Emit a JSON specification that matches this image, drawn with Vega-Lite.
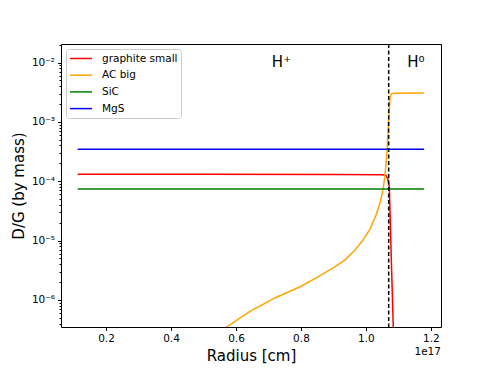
{
  "$schema": "https://vega.github.io/schema/vega-lite/v6.json",
  "width": 380,
  "height": 283,
  "autosize": "none",
  "padding": {"left": 61, "top": 44, "right": 49, "bottom": 41},
  "background": "white",
  "config": {
    "font": "DejaVu Sans",
    "view": {"stroke": "black", "strokeWidth": 1},
    "axis": {"grid": false, "domain": false, "tickColor": "black", "labelColor": "black", "titleColor": "black", "labelFont": "DejaVu Sans", "titleFont": "DejaVu Sans", "titleFontWeight": "normal"}
  },
  "datasets": {
    "lines": [
      {"series": "graphite small", "x": 0.113, "y": 1.31e-4},
      {"series": "graphite small", "x": 0.5, "y": 1.31e-4},
      {"series": "graphite small", "x": 0.9, "y": 1.3e-4},
      {"series": "graphite small", "x": 1.05, "y": 1.29e-4},
      {"series": "graphite small", "x": 1.062, "y": 1.25e-4},
      {"series": "graphite small", "x": 1.067, "y": 1.1e-4},
      {"series": "graphite small", "x": 1.072, "y": 8e-5},
      {"series": "graphite small", "x": 1.078, "y": 5e-6},
      {"series": "graphite small", "x": 1.087, "y": 1e-7},
      {"series": "AC big", "x": 0.5, "y": 1.9e-7},
      {"series": "AC big", "x": 0.571, "y": 3.5e-7},
      {"series": "AC big", "x": 0.643, "y": 6.4e-7},
      {"series": "AC big", "x": 0.72, "y": 1.08e-6},
      {"series": "AC big", "x": 0.797, "y": 1.67e-6},
      {"series": "AC big", "x": 0.85, "y": 2.4e-6},
      {"series": "AC big", "x": 0.9, "y": 3.5e-6},
      {"series": "AC big", "x": 0.935, "y": 4.7e-6},
      {"series": "AC big", "x": 0.965, "y": 6.8e-6},
      {"series": "AC big", "x": 0.99, "y": 1e-5},
      {"series": "AC big", "x": 1.012, "y": 1.55e-5},
      {"series": "AC big", "x": 1.03, "y": 2.6e-5},
      {"series": "AC big", "x": 1.043, "y": 4.2e-5},
      {"series": "AC big", "x": 1.052, "y": 7e-5},
      {"series": "AC big", "x": 1.058, "y": 1.17e-4},
      {"series": "AC big", "x": 1.062, "y": 2e-4},
      {"series": "AC big", "x": 1.065, "y": 3.3e-4},
      {"series": "AC big", "x": 1.068, "y": 7e-4},
      {"series": "AC big", "x": 1.071, "y": 1.36e-3},
      {"series": "AC big", "x": 1.074, "y": 2.5e-3},
      {"series": "AC big", "x": 1.077, "y": 2.95e-3},
      {"series": "AC big", "x": 1.085, "y": 3.04e-3},
      {"series": "AC big", "x": 1.179, "y": 3.05e-3},
      {"series": "SiC", "x": 0.113, "y": 7.4e-5},
      {"series": "SiC", "x": 1.179, "y": 7.4e-5},
      {"series": "MgS", "x": 0.113, "y": 3.47e-4},
      {"series": "MgS", "x": 1.179, "y": 3.47e-4}
    ],
    "labels": [
      {"label": "H⁺", "x": 0.74, "y": 8.3e-3},
      {"label": "H⁰", "x": 1.154, "y": 8.3e-3}
    ],
    "boundary": [{"x": 1.07}],
    "offsetText": [{"x": 1.231, "y": 3.5e-7, "label": "1e17"}]
  },
  "layer": [
    {
      "data": {"name": "lines"},
      "mark": {"type": "line", "strokeWidth": 1.5, "clip": true},
      "encoding": {
        "x": {
          "field": "x", "type": "quantitative",
          "scale": {"domain": [0.0615, 1.231], "nice": false, "zero": false},
          "axis": {"values": [0.2, 0.4, 0.6, 0.8, 1.0, 1.2], "format": ".1f", "title": "Radius [cm]", "titleFontSize": 15, "labelFontSize": 10.5, "tickSize": 3.5, "labelPadding": 3, "titlePadding": 4}
        },
        "y": {
          "field": "y", "type": "quantitative",
          "scale": {"type": "log", "domain": [3.5e-7, 2.05e-2], "nice": false},
          "axis": {
            "values": [2e-7, 3e-7, 4e-7, 5e-7, 6e-7, 7e-7, 8e-7, 9e-7, 1e-6, 2e-6, 3e-6, 4e-6, 5e-6, 6e-6, 7e-6, 8e-6, 9e-6, 1e-5, 2e-5, 3e-5, 4e-5, 5e-5, 6e-5, 7e-5, 8e-5, 9e-5, 1e-4, 2e-4, 3e-4, 4e-4, 5e-4, 6e-4, 7e-4, 8e-4, 9e-4, 1e-3, 2e-3, 3e-3, 4e-3, 5e-3, 6e-3, 7e-3, 8e-3, 9e-3, 1e-2, 2e-2],
            "labelExpr": "abs(datum.value - 1e-6) < 1e-9 ? '10⁻⁶' : abs(datum.value - 1e-5) < 1e-8 ? '10⁻⁵' : abs(datum.value - 1e-4) < 1e-7 ? '10⁻⁴' : abs(datum.value - 1e-3) < 1e-6 ? '10⁻³' : abs(datum.value - 1e-2) < 1e-5 ? '10⁻²' : ''",
            "tickSize": {"condition": {"test": "abs(log(datum.value)/LN10 - round(log(datum.value)/LN10)) < 0.01", "value": 3.5}, "value": 2},
            "title": "D/G (by mass)", "titleFontSize": 15, "labelFontSize": 10.5, "labelPadding": 3, "titlePadding": 5
          }
        },
        "color": {
          "field": "series", "type": "nominal",
          "scale": {"domain": ["graphite small", "AC big", "SiC", "MgS"], "range": ["#ff0000", "#ffa500", "#008000", "#0000ff"]},
          "legend": {
            "orient": "top-left", "offset": 5, "title": null,
            "symbolType": "M-2,0H2", "symbolSize": 121, "symbolStrokeWidth": 1.5, "symbolOffset": 5.5,
            "labelFontSize": 10.5, "labelColor": "black", "rowPadding": 4.7,
            "padding": 3, "strokeColor": "#cccccc", "fillColor": "white", "cornerRadius": 3,
            "labelOffset": 14.5
          }
        }
      }
    },
    {
      "data": {"name": "boundary"},
      "mark": {"type": "rule", "color": "black", "strokeWidth": 1.5, "strokeDash": [4, 2.5]},
      "encoding": {"x": {"field": "x", "type": "quantitative"}}
    },
    {
      "data": {"name": "labels"},
      "mark": {"type": "text", "fontSize": 15, "color": "black", "baseline": "alphabetic", "align": "center"},
      "encoding": {
        "x": {"field": "x", "type": "quantitative"},
        "y": {"field": "y", "type": "quantitative"},
        "text": {"field": "label"}
      }
    },
    {
      "data": {"name": "offsetText"},
      "mark": {"type": "text", "fontSize": 10.5, "color": "black", "align": "right", "baseline": "alphabetic", "dy": 28},
      "encoding": {
        "x": {"field": "x", "type": "quantitative"},
        "y": {"field": "y", "type": "quantitative"},
        "text": {"field": "label"}
      }
    }
  ]
}
